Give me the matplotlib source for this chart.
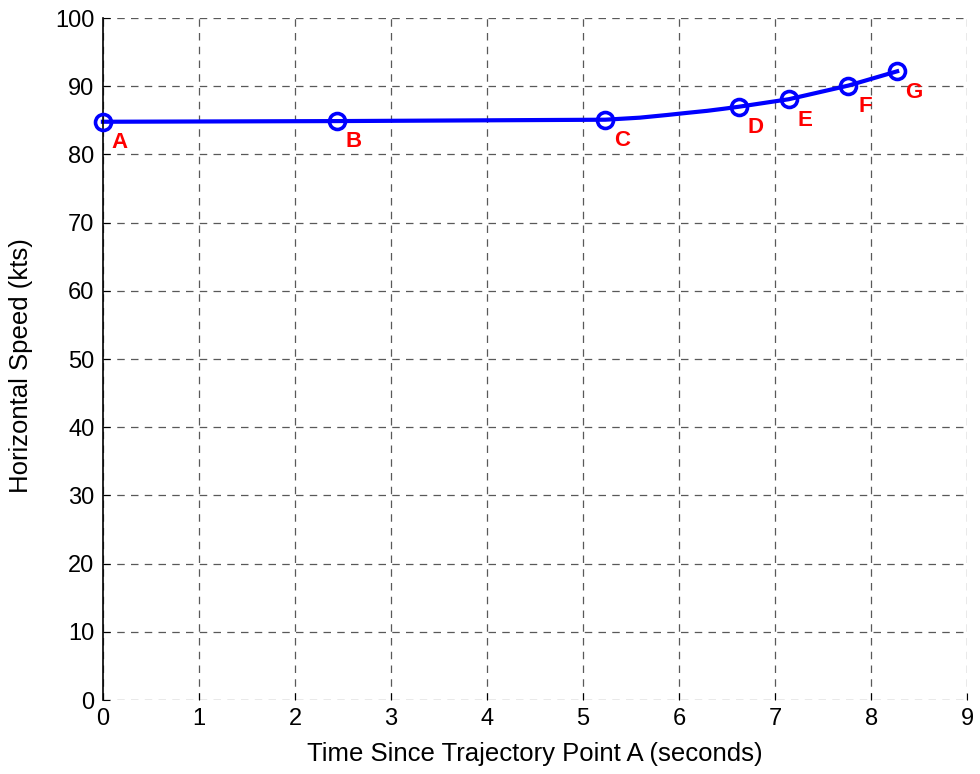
import numpy as np
import matplotlib.pyplot as plt

plt.rcParams['font.family'] = ['Liberation Sans', 'DejaVu Sans']

# trajectory samples (time in s, horizontal speed in kts)
t = [0.0, 2.44, 5.23, 5.59, 5.88, 6.08, 6.29, 6.46, 6.62, 7.14, 7.76, 8.27]
speed = [84.8, 84.9, 85.1, 85.4, 85.8, 86.1, 86.4, 86.7, 87.0, 88.1, 90.1, 92.2]

# named trajectory points
point_names = ['A', 'B', 'C', 'D', 'E', 'F', 'G']
point_t = [0.0, 2.44, 5.23, 6.62, 7.14, 7.76, 8.27]
point_speed = [84.8, 84.9, 85.1, 87.0, 88.1, 90.1, 92.2]

fig = plt.figure(figsize=(9.8, 7.74), dpi=100)
ax = fig.add_axes([0.105, 0.0956, 0.882, 0.881])

ax.plot(t, speed, '-', color='#0000ff', lw=3, clip_on=False)
ax.plot(point_t, point_speed, 'o', color='#0000ff', mfc='none', mew=2.6, ms=11.5,
        clip_on=False, zorder=5)

for name, x, y in zip(point_names, point_t, point_speed):
    ax.annotate(name, (x, y), xytext=(12, -15), textcoords='offset points',
                color='red', fontweight='bold', fontsize=16, va='center', ha='center')

ax.set_xlim(0, 9)
ax.set_ylim(0, 100)
ax.set_xticks(range(0, 10))
ax.set_yticks(range(0, 101, 10))
ax.grid(True, color='#303030', linestyle=(0, (6, 5)), lw=0.9, alpha=0.8)
for s in ['top', 'right', 'bottom']:
    ax.spines[s].set_visible(False)
ax.spines['left'].set_linewidth(1.2)
ax.tick_params(direction='in', labelsize=17, length=5)
ax.tick_params(axis='x', pad=6)
ax.tick_params(axis='y', pad=6)

ax.set_xlabel('Time Since Trajectory Point A (seconds)', fontsize=18.5)
ax.set_ylabel('Horizontal Speed (kts)', fontsize=18.5)
ax.xaxis.set_label_coords(0.5, -0.062)
ax.yaxis.set_label_coords(-0.081, 0.49)

fig.savefig('out.png', dpi=100)
